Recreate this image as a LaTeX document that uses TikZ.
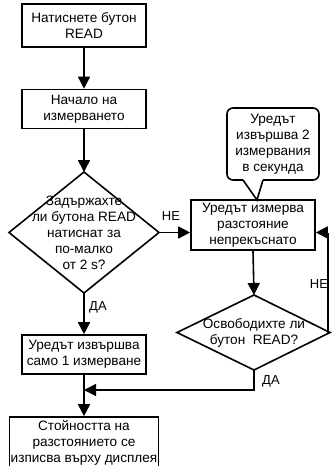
\documentclass[tikz,border=0pt]{standalone}
\usepackage{fontspec}
\setmainfont{Liberation Sans}
\usetikzlibrary{arrows.meta,shapes.geometric}
\tikzset{
  flow/.style={line width=1.6pt},
  arr/.style={flow,-{Triangle[length=12pt,width=12pt]}},
  txt/.style={font=\fontsize{13.6}{16}\selectfont},
  stepbox/.style={draw,line width=1.6pt,rectangle,align=center,txt,inner sep=1pt},
  plain/.style={align=center,txt,inner sep=0pt},
  lbl/.style={font=\fontsize{13}{14}\selectfont,inner sep=0pt}
}
\begin{document}
\begin{tikzpicture}[x=1pt,y=-1pt]
\useasboundingbox (0,0) rectangle (333,466);

% left column
\node[stepbox,minimum width=124pt,minimum height=43pt] (press) at (84,25.5)
  {Натиснете бутон\\READ};
\node[stepbox,minimum width=124pt,minimum height=39pt] (start) at (84,109)
  {Начало на\\измерването};
\draw[flow] (84,172) -- (159,232.5) -- (84,293) -- (9,232.5) -- cycle;
\node[plain] (hold) at (84,233)
  {Задържахте\\ли бутона READ\\натиснат за\\по-малко\\от 2 s?};
\coordinate (holdN) at (84,172);
\coordinate (holdE) at (159,232.5);
\coordinate (holdS) at (84,293);
\node[stepbox,minimum width=124pt,minimum height=39pt] (single) at (84,354.5)
  {Уредът извършва\\само 1 измерване};
\node[stepbox,minimum width=124pt,minimum height=52pt] (show) at (84,443)
  {Стойността на\\разстоянието се\\изписва върху дисплея};

% right column
\node[stepbox,minimum width=124pt,minimum height=50pt] (cont) at (253,225)
  {Уредът измерва\\разстояние\\непрекъснато};
\draw[flow,rounded corners=6pt] (243,180) -- (227,180) -- (227,108) -- (319,108)
  -- (319,180) -- (263,180);
\draw[flow] (243,180) -- (257,200) -- (263,180);
\node[plain] (note) at (273,144)
  {Уредът\\извършва 2\\измервания\\в секунда};
\draw[flow] (254,295) -- (330,332.5) -- (254,370) -- (177,332.5) -- cycle;
\node[plain] (release) at (254,333)
  {Освободихте ли\\бутон\ \ READ?};
\coordinate (relN) at (254,295);
\coordinate (relE) at (330,332.5);
\coordinate (relS) at (254,370);

% connectors
\draw[arr] (press.south) -- (start.north);
\draw[arr] (start.south) -- (holdN);
\draw[arr] (holdS) -- (single.north);
\node[lbl,anchor=west] (yes1) at (89,307) {ДА};
\draw[arr] (holdE) -- (cont.west |- holdE);
\node[lbl] (no1) at (171,216) {НЕ};
\draw[arr] (cont.south) -- (relN);
\coordinate (loop) at (328,232.5);
\draw[flow] (relE) ++(-2,0) coordinate (relE2) -- (loop);
\draw[arr] (loop) -- (cont.east |- loop);
\node[lbl] (no2) at (319,284) {НЕ};
\coordinate (merge) at (84,390);
\draw[flow] (single.south) -- (merge);
\draw[arr] (merge) -- (show.north);
\draw[arr] (relS) |- (merge);
\node[lbl,anchor=west] (yes2) at (262,381) {ДА};
\end{tikzpicture}
\end{document}
